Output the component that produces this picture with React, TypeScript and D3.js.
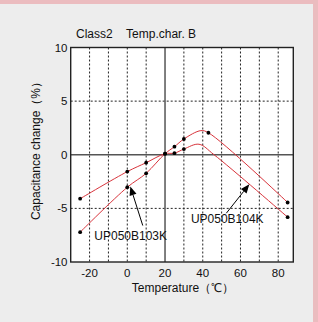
import React from "react";
import * as d3 from "d3";

// chart values
const xTicks = [-20, 0, 20, 40, 60, 80];
const yTicks = [-10, -5, 0, 5, 10];
const xGrid = [-20, -10, 0, 10, 30, 40, 50, 60, 70, 80];
const yGrid = [-5, 5];

// UP050B103K
const line103: [number, number][] = [
  [-25, -7.22], [0, -3.03], [10, -1.73], [20, 0.1], [25, 0.75],
  [30, 1.47], [39, 2.25], [43, 2.05], [85, -4.45],
];
const marks103: [number, number][] = [
  [-25, -7.22], [0, -3.03], [10, -1.73], [20, 0.1], [25, 0.75],
  [30, 1.47], [43, 2.05], [85, -4.45],
];

// UP050B104K
const line104: [number, number][] = [
  [-25, -4.1], [0, -1.57], [10, -0.74], [20, 0.1], [25, 0.15],
  [30, 0.53], [38, 0.98], [46, 0], [85, -5.82],
];
const marks104: [number, number][] = [
  [-25, -4.1], [0, -1.57], [10, -0.74], [20, 0.1], [25, 0.15],
  [30, 0.53], [85, -5.82],
];

// annotations: label, text pos, arrow tail, arrow tip (data units)
const notes = [
  { label: "UP050B103K", text: [1.8, -7.95], from: [8.2, -6.6], to: [1.6, -2.95] },
  { label: "UP050B104K", text: [53, -6.37], from: [52.5, -5.45], to: [64.7, -2.75] },
];

const W = 318;
const H = 322;
const font = "'Liberation Sans', Arial, sans-serif";

export default function App() {
  const x = d3.scaleLinear().domain([-30, 88]).range([70.7, 293.3]);
  const y = d3.scaleLinear().domain([-10, 10]).range([262, 47.5]);

  const line = d3
    .line<[number, number]>()
    .x((d) => x(d[0]))
    .y((d) => y(d[1]))
    .curve(d3.curveCatmullRom.alpha(0.5));

  const red = "#d8343c";

  const arrow = (from: number[], to: number[]) => {
    const x1 = x(from[0]), y1 = y(from[1]);
    const x2 = x(to[0]), y2 = y(to[1]);
    const a = Math.atan2(y2 - y1, x2 - x1);
    const len = 9, half = 3.6;
    const bx = x2 - len * Math.cos(a), by = y2 - len * Math.sin(a);
    const p1 = [bx + half * Math.sin(a), by - half * Math.cos(a)];
    const p2 = [bx - half * Math.sin(a), by + half * Math.cos(a)];
    return (
      <g>
        <line x1={x1} y1={y1} x2={bx} y2={by} stroke="#000" strokeWidth={1} />
        <path d={`M${x2},${y2}L${p1[0]},${p1[1]}L${p2[0]},${p2[1]}Z`} fill="#000" />
      </g>
    );
  };

  const [x0, x1] = x.range();
  const [y0, y1] = y.range();

  return (
    <svg
      width={W}
      height={H}
      style={{ position: "absolute", left: 0, top: 0 }}
      fontFamily={font}
    >
      <rect x={0} y={0} width={W} height={H} fill="#ededed" />
      <rect x={0} y={0} width={W} height={4} fill="#ebbcbf" />
      <rect x={313} y={0} width={5} height={H} fill="#ebbcbf" />

      <rect x={x0} y={y1} width={x1 - x0} height={y0 - y1} fill="#fff" />

      {xGrid.map((v) => (
        <line key={"gx" + v} x1={x(v)} x2={x(v)} y1={y1} y2={y0}
          stroke="#222" strokeWidth={1} strokeDasharray="2,2" />
      ))}
      {yGrid.map((v) => (
        <line key={"gy" + v} x1={x0} x2={x1} y1={y(v)} y2={y(v)}
          stroke="#222" strokeWidth={1} strokeDasharray="2,2" />
      ))}
      <line x1={x(20)} x2={x(20)} y1={y1} y2={y0} stroke="#555" strokeWidth={1.5} />
      <line x1={x0} x2={x1} y1={y(0)} y2={y(0)} stroke="#555" strokeWidth={1.5} />

      <rect x={x0} y={y1} width={x1 - x0} height={y0 - y1} fill="none"
        stroke="#222" strokeWidth={1.4} />

      <path d={line(line103) || ""} fill="none" stroke={red} strokeWidth={1} />
      <path d={line(line104) || ""} fill="none" stroke={red} strokeWidth={1} />
      {marks103.concat(marks104).map((d, i) => (
        <circle key={"m" + i} cx={x(d[0])} cy={y(d[1])} r={1.9} fill="#000" />
      ))}

      {notes.map((n) => (
        <g key={n.label}>
          {arrow(n.from, n.to)}
          <text x={x(n.text[0])} y={y(n.text[1])} textAnchor="middle"
            fontSize={12} fill="#111">{n.label}</text>
        </g>
      ))}

      {xTicks.map((v) => (
        <text key={"tx" + v} x={x(v)} y={277} textAnchor="middle" fontSize={11.5}
          fill="#111">{v}</text>
      ))}
      {yTicks.map((v) => (
        <text key={"ty" + v} x={67.5} y={y(v) + 4} textAnchor="end" fontSize={11.5}
          fill="#111">{v}</text>
      ))}

      <text x={76} y={38} fontSize={12} fill="#111">
        Class2{"\u00a0\u00a0\u00a0\u00a0"}Temp.char. B
      </text>
      <text x={183} y={292} textAnchor="middle" fontSize={12} fill="#111">
        Temperature（℃）
      </text>
      <text transform="translate(40,148) rotate(-90)" textAnchor="middle"
        fontSize={12} fill="#111">
        Capacitance change（%）
      </text>
    </svg>
  );
}
